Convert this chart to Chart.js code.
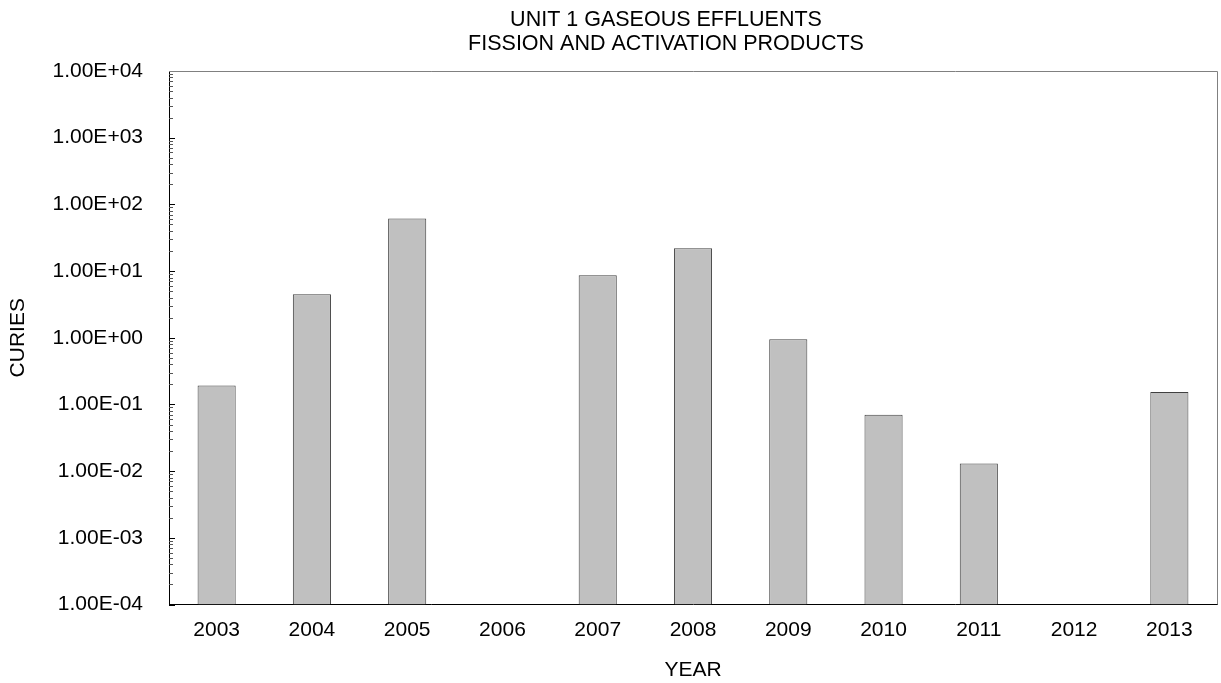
<!DOCTYPE html>
<html>
<head>
<meta charset="utf-8">
<script src="https://cdn.jsdelivr.net/npm/chart.js@4"></script>
<style>
  html, body { margin: 0; padding: 0; background: #fff; }
  #wrap { width: 1221px; height: 683px; }
</style>
</head>
<body>
<div id="wrap"><canvas id="chart"></canvas></div>
<script>
// данные графика
const years = ['2003', '2004', '2005', '2006', '2007', '2008', '2009', '2010', '2011', '2012', '2013'];
const curies = [0.193, 4.48, 61.6, null, 8.63, 21.9, 0.946, 0.0698, 0.0130, null, 0.153];
const titleLines = ['UNIT 1 GASEOUS EFFLUENTS', 'FISSION AND ACTIVATION PRODUCTS'];
const minExp = -4;
const maxExp = 4;

Chart.defaults.font.family = "'Liberation Sans', Arial, sans-serif";
Chart.defaults.color = '#000';

// тики внутрь + серая рамка сверху/справа + заголовок
const frame = {
  id: 'frame',
  afterDraw(chart) {
    const ctx = chart.ctx;
    const a = chart.chartArea;
    const y = chart.scales.y;
    ctx.save();
    ctx.lineWidth = 1;
    y.ticks.forEach(t => {
      const p = Math.round(y.getPixelForValue(t.value)) + 0.5;
      const major = t.major;
      ctx.strokeStyle = major ? '#000' : '#555';
      ctx.beginPath();
      ctx.moveTo(a.left, p);
      ctx.lineTo(a.left + (major ? 6 : 4), p);
      ctx.stroke();
    });
    ctx.strokeStyle = '#808080';
    ctx.beginPath();
    ctx.moveTo(a.left, a.top + 0.5);
    ctx.lineTo(a.right + 0.5, a.top + 0.5);
    ctx.lineTo(a.right + 0.5, a.bottom);
    ctx.stroke();

    ctx.fillStyle = '#000';
    ctx.font = "21.5px 'Liberation Sans', Arial, sans-serif";
    ctx.textAlign = 'center';
    ctx.textBaseline = 'alphabetic';
    ctx.fillText(titleLines[0], 666, 26);
    ctx.fillText(titleLines[1], 666, 50);
    ctx.restore();
  }
};

new Chart(document.getElementById('chart'), {
  type: 'bar',
  data: {
    labels: years,
    datasets: [{
      data: curies,
      backgroundColor: '#c0c0c0',
      borderColor: '#404040',
      borderWidth: 1,
      barPercentage: 0.4,
      categoryPercentage: 1.0
    }]
  },
  options: {
    responsive: true,
    maintainAspectRatio: false,
    animation: false,
    layout: { padding: { top: 71, right: 4, left: 0, bottom: 0 } },
    plugins: {
      legend: { display: false },
      tooltip: { enabled: false }
    },
    scales: {
      x: {
        grid: { display: true, drawOnChartArea: false, drawTicks: false },
        border: { display: true, color: '#000', width: 1 },
        ticks: { font: { size: 21 }, padding: 13, maxRotation: 0 },
        title: { display: true, text: 'YEAR', font: { size: 21 }, padding: { top: 0, bottom: 0 } },
        afterFit(scale) { scale.height = 78.5; }
      },
      y: {
        type: 'logarithmic',
        min: Math.pow(10, minExp),
        max: Math.pow(10, maxExp),
        grid: { display: true, drawOnChartArea: false, drawTicks: false },
        border: { display: true, color: '#000', width: 1 },
        ticks: {
          font: { size: 21 },
          padding: 26,
          autoSkip: false,
          callback(v) {
            const e = Math.round(Math.log10(v));
            if (Math.abs(v / Math.pow(10, e) - 1) > 1e-6) return '';
            return '1.00E' + (e < 0 ? '-' : '+') + String(Math.abs(e)).padStart(2, '0');
          }
        },
        afterBuildTicks(scale) {
          const ticks = [];
          for (let e = minExp; e <= maxExp; e++) {
            for (let m = 1; m <= 9; m++) {
              if (e === maxExp && m > 1) break;
              ticks.push({ value: m * Math.pow(10, e), major: m === 1 });
            }
          }
          scale.ticks = ticks;
        },
        title: { display: true, text: 'CURIES', font: { size: 21 }, padding: { top: 6, bottom: 0 } },
        afterFit(scale) { scale.width = 169; }
      }
    }
  },
  plugins: [frame]
});
</script>
</body>
</html>
